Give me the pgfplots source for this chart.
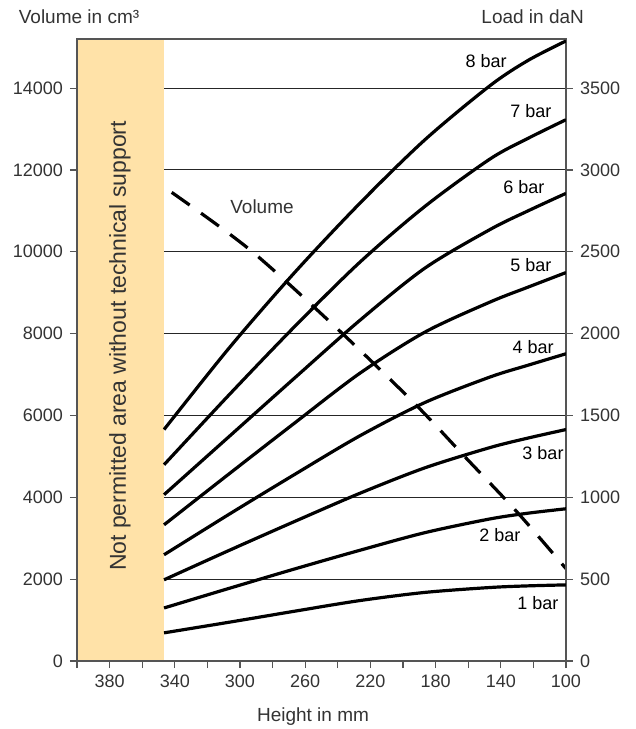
\documentclass[border=0pt]{standalone}
\usepackage{pgfplots}
\pgfplotsset{compat=1.18}
\usepackage{fontspec}
\setmainfont{Liberation Sans}
\definecolor{zone}{HTML}{FFE2A8}
\definecolor{txt}{HTML}{333333}
\definecolor{axl}{HTML}{555555}
\begin{document}
\begin{tikzpicture}
\path[use as bounding box] (-38.5pt,-34pt) rectangle (279.5pt,330.5pt);
\pgfplotsset{
  base/.style={
    scale only axis, width=244.5pt, height=311pt,
    xmin=100, xmax=400, x dir=reverse,
    tick align=outside, major tick length=3.5pt, minor tick length=3.5pt,
    tick style={draw=axl, line width=0.6pt},
    axis line style={draw=axl, line width=0.6pt},
    ticklabel style={font=\fontsize{9}{10}\selectfont, text=txt},
    scaled y ticks=false, scaled x ticks=false,
    /pgf/number format/assume math mode=true,
    /pgf/number format/1000 sep={},
  },
  crv/.style={black, line width=1.6pt, smooth, no markers},
}
\begin{axis}[base, name=ax1, ymin=0, ymax=15200, ytick={0,2000,...,14000}, ymajorgrids,
  grid style={black!85, line width=0.5pt}, xtick=\empty, ytick pos=left]
\addplot[fill=zone, draw=none] coordinates {(346.6,0) (400,0) (400,15200) (346.6,15200)} --cycle;
\addplot[crv, dash pattern=on 11pt off 7pt] coordinates {
(341.9,11452) (293.9,10049) (242.8,8213) (193.9,6335) (162,4989) (130,3640) (100,2257)};
\node[font=\fontsize{9.5}{11}\selectfont, text=txt] at (axis cs:286.5,11102) {Volume};
\node[rotate=90, font=\fontsize{11.5}{13}\selectfont, text=txt] at (axis cs:373.6,7699) {Not permitted area without technical support};
\end{axis}
\node[anchor=base, font=\fontsize{9.5}{11}\selectfont, text=txt] at ([xshift=1pt,yshift=7.5pt]ax1.north west) {Volume in cm³};
\node[anchor=base east, font=\fontsize{9.5}{11}\selectfont, text=txt] at ([xshift=12.5pt,yshift=7.5pt]ax1.north east) {Load in daN};
\node[anchor=base, font=\fontsize{9.5}{11}\selectfont, text=txt] at ([xshift=118pt,yshift=-30.5pt]ax1.south west) {Height in mm};
\begin{axis}[base, ymin=0, ymax=3800, ytick={0,500,...,3500}, ytick pos=right,
  xtick={100,140,...,380}, minor xtick={120,160,...,400}, xtick pos=bottom]
% 8 bar
\addplot[crv] coordinates {(346.6,1414) (306.6,1913) (266.6,2372) (226.6,2795) (186.6,3184) (146.6,3515) (123.3,3669) (100,3788)};
% 7 bar
\addplot[crv] coordinates {(346.6,1199) (306.6,1627) (266.6,2042) (226.6,2435) (186.6,2777) (146.6,3067) (123.3,3193) (100,3307)};
% 6 bar
\addplot[crv] coordinates {(346.6,1016) (306.6,1372) (266.6,1728) (226.6,2080) (186.6,2400) (146.6,2636) (123.3,2750) (100,2857)};
% 5 bar
\addplot[crv] coordinates {(346.6,832) (306.6,1144) (266.6,1453) (226.6,1757) (186.6,2009) (146.6,2193) (123.3,2284) (100,2373)};
% 4 bar
\addplot[crv] coordinates {(346.6,649) (306.6,897) (266.6,1139) (226.6,1375) (186.6,1579) (146.6,1735) (123.3,1807) (100,1877)};
% 3 bar
\addplot[crv] coordinates {(346.6,496) (306.6,676) (266.6,852) (226.6,1024) (186.6,1180) (146.6,1304) (123.3,1362) (100,1414)};
% 2 bar
\addplot[crv] coordinates {(346.6,324) (306.6,444) (266.6,562) (226.6,676) (186.6,784) (146.6,868) (123.3,903) (100,930)};
% 1 bar
\addplot[crv] coordinates {(346.6,172) (306.6,237) (266.6,304) (226.6,369) (186.6,419) (146.6,449) (123.3,459) (100,465)};
\begin{scope}[every node/.style={font=\fontsize{9}{10}\selectfont, text=black}]
\node at (axis cs:149,3666) {8 bar};
\node at (axis cs:121.5,3360) {7 bar};
\node at (axis cs:125.8,2895) {6 bar};
\node at (axis cs:121.5,2417) {5 bar};
\node at (axis cs:120.2,1916) {4 bar};
\node at (axis cs:114.1,1273) {3 bar};
\node at (axis cs:140.5,771) {2 bar};
\node at (axis cs:117.2,355) {1 bar};
\end{scope}
\end{axis}
\end{tikzpicture}
\end{document}
